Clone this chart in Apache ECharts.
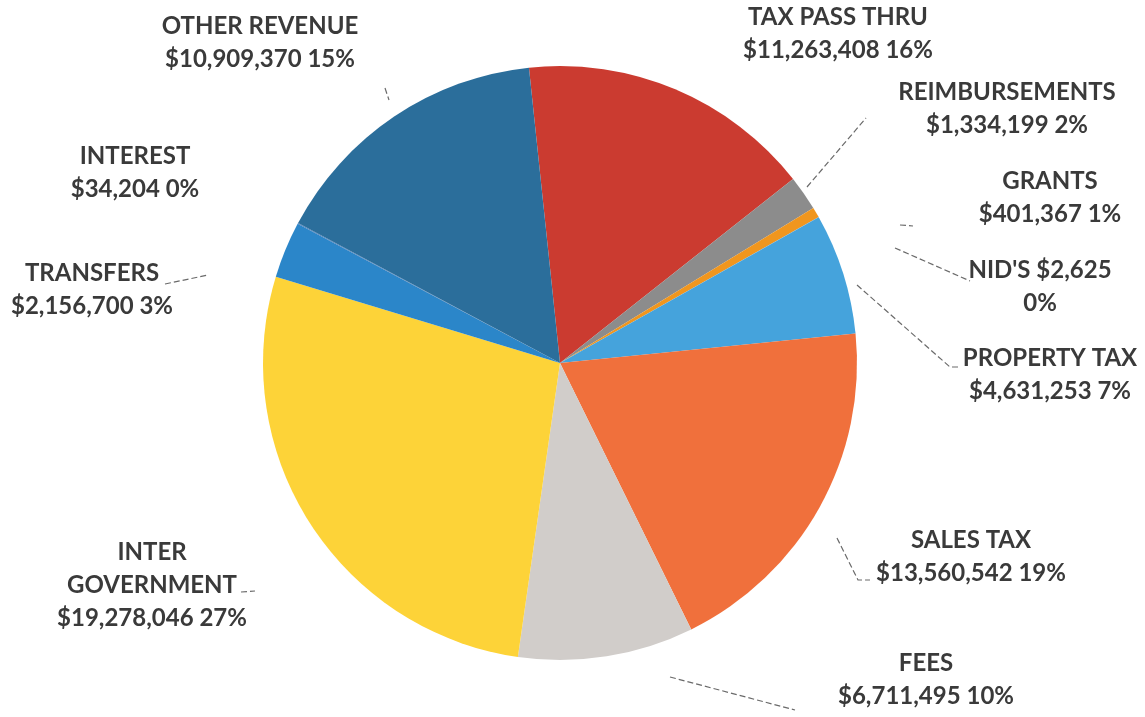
<!DOCTYPE html>
<html>
<head>
<meta charset="utf-8">
<script src="https://cdn.jsdelivr.net/npm/echarts@6/dist/echarts.min.js"></script>
<style>
  html, body { margin: 0; padding: 0; background: #ffffff; }
  #chart { width: 1145px; height: 717px; }
</style>
</head>
<body>
<div id="chart"></div>
<script>
// Revenue sources, in clockwise order from the top of the pie
const categories = ['TAX PASS THRU', 'REIMBURSEMENTS', 'GRANTS', "NID'S", 'PROPERTY TAX',
  'SALES TAX', 'FEES', 'INTER GOVERNMENT', 'TRANSFERS', 'INTEREST', 'OTHER REVENUE'];
const amounts = [11263408, 1334199, 401367, 2625, 4631253,
  13560542, 6711495, 19278046, 2156700, 34204, 10909370];

const sliceColors = ['#CB3B30', '#8C8C8C', '#F0961E', '#5B9BD5', '#45A3DC',
  '#F0703C', '#D1CDCA', '#FDD338', '#2B86C9', '#4A7EBB', '#2B6E9B'];

// Label anchor (centre of text block) for each source
const labelPos = {
  'TAX PASS THRU': [838, 34],
  'REIMBURSEMENTS': [1007, 109],
  'GRANTS': [1050, 198],
  "NID'S": [1040, 287],
  'PROPERTY TAX': [1050, 375],
  'SALES TAX': [971, 557],
  'FEES': [926, 680],
  'INTER GOVERNMENT': [152, 585],
  'TRANSFERS': [92, 290],
  'INTEREST': [135, 173],
  'OTHER REVENUE': [260, 43]
};
// Leader lines from slice to label
const leaderPts = {
  'REIMBURSEMENTS': [[807, 187], [866, 118]],
  'GRANTS': [[900, 225], [913, 226]],
  "NID'S": [[895, 248], [970, 281]],
  'PROPERTY TAX': [[857, 285], [950, 367], [960, 367]],
  'SALES TAX': [[837, 538], [858, 580], [870, 580]],
  'FEES': [[670, 677], [795, 710]],
  'INTER GOVERNMENT': [[241, 592], [255, 591]],
  'TRANSFERS': [[165, 284], [208, 275]],
  'OTHER REVENUE': [[385, 88], [389, 100]]
};

const fmtMoney = v => '$' + v.toLocaleString('en-US');

const chart = echarts.init(document.getElementById('chart'), null, { renderer: 'canvas' });

const data = categories.map((name, i) => ({
  name: name,
  value: amounts[i],
  itemStyle: { color: sliceColors[i] },
  labelLine: { show: !!leaderPts[name] }
}));

chart.setOption({
  animation: false,
  backgroundColor: '#ffffff',
  series: [{
    type: 'pie',
    center: [560, 363],
    radius: 297,
    startAngle: 96,
    clockwise: true,
    percentPrecision: 0,
    avoidLabelOverlap: false,
    itemStyle: { borderWidth: 0 },
    data: data,
    label: {
      show: true,
      position: 'outside',
      fontFamily: 'Lato',
      fontWeight: 'bold',
      fontSize: 24,
      lineHeight: 33,
      color: '#3a3a3a',
      align: 'center',
      formatter: p => {
        const money = fmtMoney(p.value);
        const pct = p.percent + '%';
        if (p.name === "NID'S") return p.name + ' ' + money + '\n' + pct;
        const name = p.name === 'INTER GOVERNMENT' ? 'INTER\nGOVERNMENT' : p.name;
        return name + '\n' + money + ' ' + pct;
      }
    },
    labelLine: {
      show: true,
      lineStyle: { color: '#6a6a6a', width: 1.2, type: [6, 3] }
    },
    labelLayout: params => {
      const name = categories[params.dataIndex];
      const pos = labelPos[name];
      const out = { x: pos[0], y: pos[1], align: 'center', verticalAlign: 'middle' };
      if (leaderPts[name]) out.labelLinePoints = leaderPts[name];
      return out;
    }
  }]
});
</script>
</body>
</html>
